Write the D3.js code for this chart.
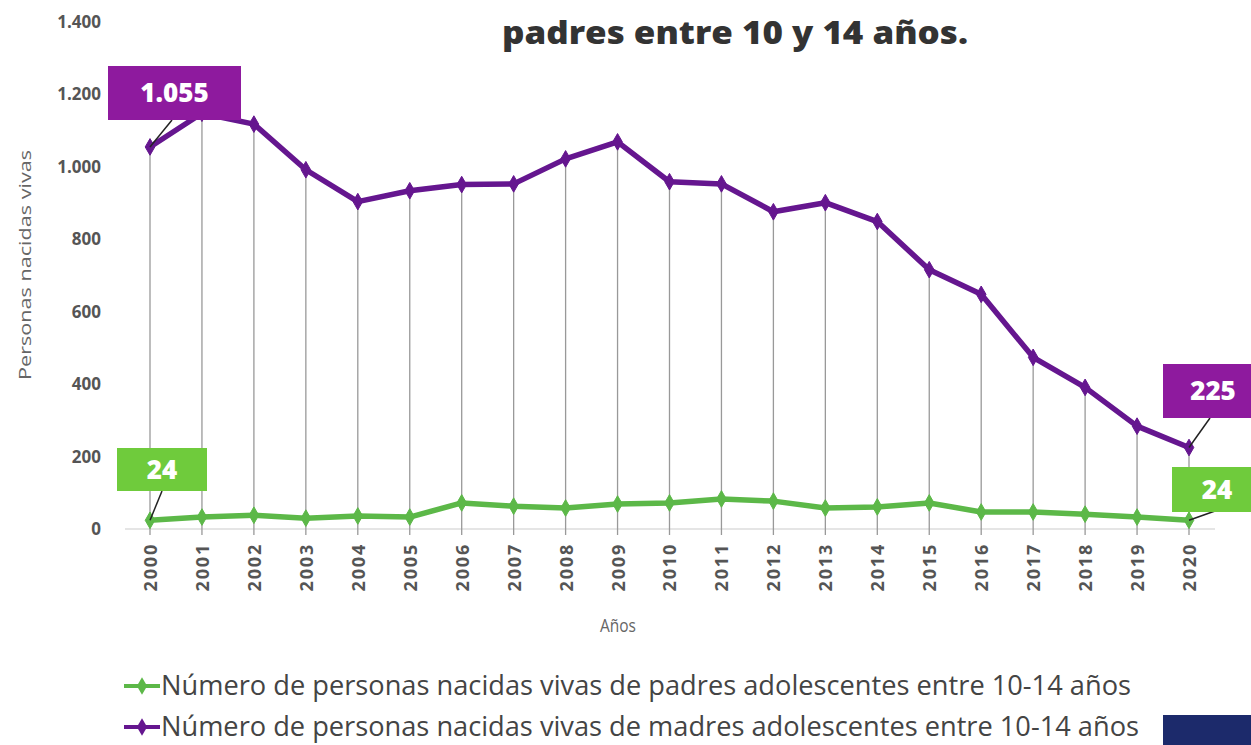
<!DOCTYPE html>
<html><head><meta charset="utf-8">
<script src="https://cdn.jsdelivr.net/npm/d3@7"></script>
<style>
body{margin:0;background:#fff;}
svg{display:block;}
</style></head>
<body>
<svg id="chart" width="1251" height="745"></svg>
<script>
const years = [2000,2001,2002,2003,2004,2005,2006,2007,2008,2009,2010,2011,2012,2013,2014,2015,2016,2017,2018,2019,2020];
const madres = [1055,1148,1118,992,904,934,951,953,1022,1069,959,953,876,901,849,716,648,474,391,284,225];
const padres = [24,33,38,30,36,33,72,63,58,69,72,83,77,58,61,72,47,47,41,33,24];
const yTicks = [0,200,400,600,800,1000,1200,1400];
const seriesNames = ["Número de personas nacidas vivas de padres adolescentes entre 10-14 años",
                     "Número de personas nacidas vivas de madres adolescentes entre 10-14 años"];
const titleText = "padres entre 10 y 14 años.";
const yTitle = "Personas nacidas vivas";
const xTitle = "Años";

const purple = "#65168f", purpleBox = "#8e1a9e";
const green = "#5cb848", greenBox = "#6fcb3c";

const svg = d3.select("#chart");
const x = d3.scalePoint().domain(years).range([150, 1189]);
const y = d3.scaleLinear().domain([0,1400]).range([529, 22]);
const fmt = d3.formatLocale({decimal:",", thousands:".", grouping:[3], currency:["",""]}).format(",d");

// title
svg.append("text").attr("x", 735).attr("y", 44).attr("text-anchor","middle")
  .attr("font-family","'Open Sans', sans-serif").attr("font-weight",800).attr("font-size",32)
  .attr("textLength",466).attr("lengthAdjust","spacingAndGlyphs")
  .attr("fill","#333").text(titleText);

// baseline
svg.append("line").attr("x1",125).attr("x2",1215).attr("y1",y(0)).attr("y2",y(0))
  .attr("stroke","#ddd").attr("stroke-width",1.5);

// drop lines
svg.append("g").selectAll("line").data(years).join("line")
  .attr("x1", d=>x(d)).attr("x2", d=>x(d))
  .attr("y1", (d,i)=>y(madres[i])).attr("y2", y(0)+6)
  .attr("stroke","#999").attr("stroke-width",1.3);

// y axis
const yAxis = svg.append("g").attr("transform","translate(101,0)")
  .call(d3.axisLeft(y).tickValues(yTicks).tickSize(0).tickPadding(0).tickFormat(d=>fmt(d)));
yAxis.select(".domain").remove();
yAxis.selectAll("text").attr("font-family","'Open Sans',sans-serif").attr("font-weight",700)
  .attr("font-size",17).attr("fill","#555");

// x axis
const xAxis = svg.append("g").attr("transform",`translate(0,${y(0)})`)
  .call(d3.axisBottom(x).tickSize(0).tickFormat(d=>String(d)));
xAxis.select(".domain").remove();
xAxis.selectAll("text").attr("transform","rotate(-90)").attr("text-anchor","end")
  .attr("x",-14).attr("y",0).attr("dy","0.36em")
  .attr("font-family","'Open Sans',sans-serif").attr("font-weight",700)
  .attr("font-size",18).attr("letter-spacing",1.8).attr("fill","#555");

// axis titles
svg.append("text").attr("transform","translate(25,265) rotate(-90)").attr("text-anchor","middle")
  .attr("dy","0.35em")
  .attr("font-family","'Open Sans',sans-serif").attr("font-size",17).attr("fill","#666")
  .attr("textLength",230).attr("lengthAdjust","spacingAndGlyphs").text(yTitle);
svg.append("text").attr("x",618).attr("y",632).attr("text-anchor","middle")
  .attr("font-family","'Open Sans',sans-serif").attr("font-size",19).attr("fill","#666")
  .attr("textLength",36).attr("lengthAdjust","spacingAndGlyphs")
  .text(xTitle);

// lines
const line = d3.line().x((d,i)=>x(years[i])).y(d=>y(d));
function drawSeries(vals, col){
  svg.append("path").datum(vals).attr("d", line).attr("fill","none")
    .attr("stroke",col).attr("stroke-width",5.5).attr("stroke-linejoin","round");
  svg.append("g").selectAll("path").data(vals).join("path")
    .attr("d", d3.symbol(d3.symbolDiamond, 80)())
    .attr("transform",(d,i)=>`translate(${x(years[i])},${y(d)})`)
    .attr("fill",col).attr("stroke",col).attr("stroke-width",1);
}
drawSeries(padres, green);
drawSeries(madres, purple);

// callout labels
function callout(idx, vals, box, bx, by, bw, bh, lx, ly){
  const px = x(years[idx]), py = y(vals[idx]);
  svg.append("line").attr("x1",px).attr("y1",py).attr("x2",lx).attr("y2",ly)
    .attr("stroke","#222").attr("stroke-width",1.5);
  svg.append("rect").attr("x",bx).attr("y",by).attr("width",bw).attr("height",bh).attr("fill",box);
  svg.append("text").attr("x",bx+bw/2).attr("y",by+bh/2).attr("dy","0.36em").attr("text-anchor","middle")
    .attr("font-family","'Open Sans',sans-serif").attr("font-weight",800).attr("font-size",26)
    .attr("fill","#fff").text(fmt(vals[idx]));
}
callout(0, madres, purpleBox, 108, 66, 133, 54, 172, 120);
callout(0, padres, greenBox, 117, 448, 90, 43, 162, 491);
callout(20, madres, purpleBox, 1163, 364, 100, 54, 1210, 418);
callout(20, padres, greenBox, 1172, 467, 90, 45, 1215, 511);

// legend
const legend = svg.append("g");
[[padres,green,686],[madres,purple,727]].forEach(([v,col,ly],i)=>{
  legend.append("line").attr("x1",124).attr("x2",160).attr("y1",ly).attr("y2",ly)
    .attr("stroke",col).attr("stroke-width",4);
  legend.append("path").attr("d",d3.symbol(d3.symbolDiamond,90)()).attr("transform",`translate(142,${ly})`).attr("fill",col);
  legend.append("text").attr("x",161).attr("y",ly).attr("dy","0.35em")
    .attr("font-family","'Open Sans',sans-serif").attr("font-size",27).attr("fill","#444")
    .attr("textLength", i===0 ? 970 : 978).attr("lengthAdjust","spacingAndGlyphs")
    .text(seriesNames[i]);
});

// logo fragment
svg.append("rect").attr("x",1163).attr("y",715).attr("width",88).attr("height",30).attr("fill","#1c2a6b");
</script>
</body></html>
